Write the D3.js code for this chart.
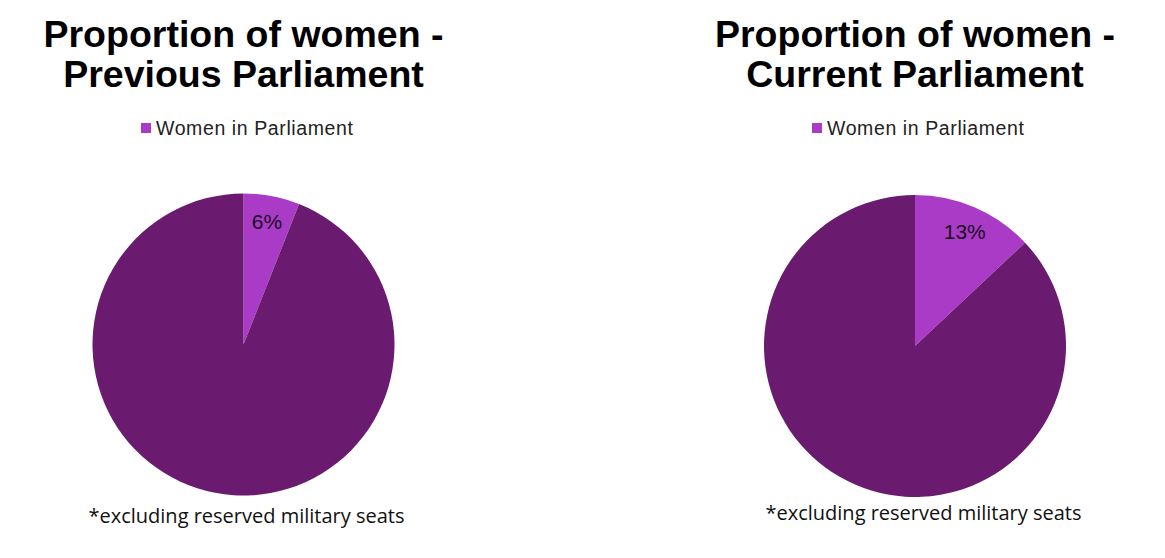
<!doctype html>
<html>
<head>
<meta charset="utf-8">
<script src="https://cdn.jsdelivr.net/npm/d3@7"></script>
<style>
html, body { margin: 0; background: #fff; overflow: hidden; }
</style>
</head>
<body>
<script>
// chart data
var categories = ["Women in Parliament", "Men in Parliament"];
var previousValues = [6, 94];
var currentValues = [13, 87];
var titles = [["Proportion of women -", "Previous Parliament"],
              ["Proportion of women -", "Current Parliament"]];
var footnote = "*excluding reserved military seats";

var w = 1165, h = 558;
var colors = d3.scaleOrdinal().domain(categories).range(["#a93bc6", "#6b1b6f"]);

var svg = d3.select("body").append("svg")
    .attr("width", w)
    .attr("height", h);

var panels = [
    {values: previousValues, title: titles[0], cx: 243.5, cy: 344.5, r: 151, legX: 141, footX: 246.5, footY: 523},
    {values: currentValues, title: titles[1], cx: 915, cy: 346, r: 151, legX: 812, footX: 923.5, footY: 520}
];

var pie = d3.pie().sort(null).value(function(d){ return d.value; });

panels.forEach(function(p){
    var g = svg.append("g");
    var data = categories.map(function(c, i){ return {name: c, value: p.values[i]}; });
    var arc = d3.arc().innerRadius(0).outerRadius(p.r);
    var labelArc = d3.arc().innerRadius(p.r * 0.83).outerRadius(p.r * 0.83);

    // title
    g.selectAll("text.title").data(p.title).enter().append("text")
        .attr("class", "title")
        .attr("x", p.cx)
        .attr("y", function(d, i){ return 47 + i * 39.5; })
        .attr("text-anchor", "middle")
        .style("font-family", "'Liberation Sans', Arial, sans-serif")
        .style("font-weight", "bold")
        .style("font-size", "37.5px")
        .style("fill", "#000")
        .text(function(d){ return d; });

    // legend (women only)
    g.append("rect")
        .attr("x", p.legX).attr("y", 123)
        .attr("width", 10).attr("height", 10)
        .style("fill", colors(categories[0]));
    g.append("text")
        .attr("x", p.legX + 15).attr("y", 135)
        .style("font-family", "'Liberation Sans', Arial, sans-serif")
        .style("font-size", "19.5px")
        .style("letter-spacing", "0.6px")
        .style("fill", "#222")
        .text(categories[0]);

    var pg = g.append("g").attr("transform", "translate(" + p.cx + "," + p.cy + ")");
    var arcs = pie(data);
    pg.selectAll("path").data(arcs).enter().append("path")
        .attr("d", arc)
        .style("fill", function(d){ return colors(d.data.name); });

    pg.selectAll("text").data(arcs.slice(0, 1)).enter().append("text")
        .attr("transform", function(d){ return "translate(" + labelArc.centroid(d) + ")"; })
        .attr("text-anchor", "middle")
        .attr("dy", "0.36em")
        .style("font-family", "'Liberation Sans', Arial, sans-serif")
        .style("font-size", "21px")
        .style("fill", "#1a0a1e")
        .text(function(d){ return d.data.value + "%"; });

    g.append("text")
        .attr("x", p.footX).attr("y", p.footY)
        .attr("text-anchor", "middle")
        .style("font-family", "'Open Sans', sans-serif")
        .style("font-size", "20px")
        .style("fill", "#111")
        .text(footnote);
});
</script>
</body>
</html>
